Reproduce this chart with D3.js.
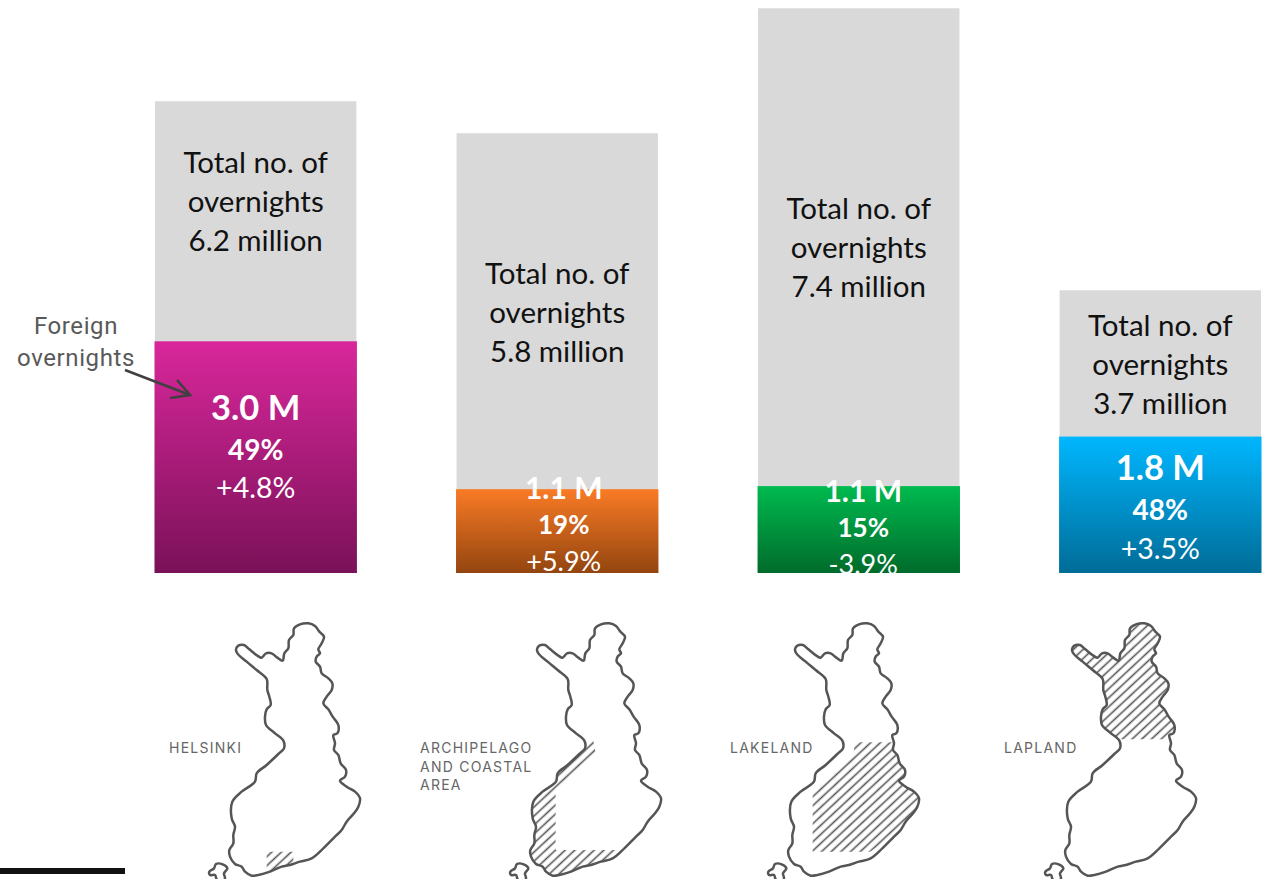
<!DOCTYPE html>
<html lang="en">

<head>
  <meta charset="UTF-8">
  <script src="https://d3js.org/d3.v7.min.js" charset="utf-8"></script>
  <title>Overnights by region</title>
  <style>
    body { margin: 0; background: #fff; overflow: hidden; }
    text { font-family: Lato, sans-serif; }
  </style>
</head>

<body>
  <script type="text/javascript">

    // values
    var regions = ["Helsinki", "Archipelago and coastal area", "Lakeland", "Lapland"];
    var totalValues = [6.19, 5.77, 7.41, 3.71];
    var foreignValues = [3.04, 1.1, 1.14, 1.79];
    var totalLabels = ["6.2 million", "5.8 million", "7.4 million", "3.7 million"];
    var foreignLabels = ["3.0 M", "1.1 M", "1.1 M", "1.8 M"];
    var shareLabels = ["49%", "19%", "15%", "48%"];
    var changeLabels = ["+4.8%", "+5.9%", "-3.9%", "+3.5%"];
    var mapLabels = [["HELSINKI"], ["ARCHIPELAGO", "AND COASTAL", "AREA"], ["LAKELAND"], ["LAPLAND"]];

    // outline of Finland (trace units, 3 per pixel)
    var finland = [[258, 118], [265, 107], [282, 105], [298, 118], [322, 137], [335, 143], [348, 130], [365, 130], [382, 143], [398, 152],
      [403, 130], [415, 115], [417, 90], [430, 75], [432, 55], [450, 43], [475, 40], [495, 48], [508, 65], [522, 80], [515, 100], [505, 118],
      [510, 130], [500, 140], [497, 155], [510, 170], [515, 190], [535, 205], [547, 220], [545, 240], [530, 260], [520, 280], [535, 298],
      [548, 320], [565, 345], [562, 370], [550, 375], [555, 400], [552, 420], [565, 435], [572, 460], [588, 480], [585, 500], [570, 512],
      [590, 530], [615, 545], [630, 565], [625, 590], [612, 610], [590, 635], [575, 660], [555, 680], [520, 715], [485, 745], [450, 755],
      [420, 765], [395, 770], [360, 785], [325, 795], [305, 797], [285, 785], [275, 770], [255, 762], [240, 740], [238, 720], [250, 700],
      [250, 675], [255, 650], [245, 625], [247, 575], [275, 545], [315, 515], [320, 490], [350, 465], [385, 432], [402, 415], [400, 392],
      [375, 370], [348, 345], [345, 320], [350, 298], [362, 285], [358, 260], [352, 240], [350, 207], [320, 180], [290, 155], [262, 130]];
    var island = [[178, 785], [192, 775], [198, 762], [218, 763], [232, 775], [222, 790], [225, 805], [215, 818], [200, 808], [195, 795], [180, 795]];
    var hatchZones = [
      [[350, 725], [430, 725], [430, 780], [350, 800]],
      [[407, 400], [427, 392], [435, 432], [314, 545], [314, 720], [497, 720], [497, 800], [217, 800], [217, 560], [317, 480]],
      [[438, 397], [563, 397], [653, 500], [653, 620], [483, 725], [311, 725], [311, 555], [433, 435]],
      [[200, 0], [580, 0], [580, 388], [200, 388]]
    ];

    // layout
    var outer_w = 1266;
    var outer_h = 879;
    var baseline = 573;
    var totalTextY = [173, 284, 219, 336];
    var foreignTextY = [419.5, 498.5, 501.5, 479.5];
    var shareTextY = [460, 534, 537, 520];
    var changeTextY = [498, 571, 574, 559];
    var labelShift = [0, 6.5, 4.5, 0];
    var foreignSize = [34.5, 30, 30, 34.5];
    var shareSize = [28, 26, 26, 28];
    var changeSize = [28.5, 27, 27, 28.5];
    var mapOffset = [0, 301, 559, 836];
    var mapLabelX = [169, 420, 730, 1004];
    var gradients = [["#d9279b", "#7a1158"], ["#f97b26", "#93450f"], ["#00ba4f", "#006b2b"], ["#00b7ff", "#006c97"]];

    var svg = d3.select("body")
      .append("svg")
      .attr("width", outer_w)
      .attr("height", outer_h)
      .style("display", "block");
    var defs = svg.append("defs");

    var xScale = d3.scaleBand()
      .domain(regions)
      .range([155, 1261])
      .paddingInner(0.332);
    var yScale = d3.scaleLinear()
      .domain([0, 7.4])
      .range([baseline, baseline - 564]);
    var traceX = d3.scaleLinear().domain([0, 690]).range([150, 380]);
    var traceY = d3.scaleLinear().domain([0, 807]).range([610, 879]);

    var line = d3.line()
      .x(function (d) { return traceX(d[0]); })
      .y(function (d) { return traceY(d[1]); })
      .curve(d3.curveLinearClosed);
    var smooth = d3.line()
      .x(function (d) { return traceX(d[0]); })
      .y(function (d) { return traceY(d[1]); })
      .curve(d3.curveCatmullRomClosed.alpha(0.5));

    regions.forEach(function (r, i) {
      var g = defs.append("linearGradient")
        .attr("id", "grad" + i)
        .attr("x1", 0).attr("y1", 0).attr("x2", 0).attr("y2", 1);
      g.append("stop").attr("offset", "0%").attr("stop-color", gradients[i][0]);
      g.append("stop").attr("offset", "100%").attr("stop-color", gradients[i][1]);
    });

    // labels are cut off at the foot of the bars
    defs.append("clipPath").attr("id", "barClip")
      .append("rect")
      .attr("x", 0).attr("y", 0)
      .attr("width", outer_w).attr("height", baseline);

    defs.append("clipPath").attr("id", "finlandClip")
      .append("path").attr("d", smooth(finland));

    defs.append("pattern")
      .attr("id", "hatch")
      .attr("patternUnits", "userSpaceOnUse")
      .attr("width", 6.6).attr("height", 6.6)
      .attr("patternTransform", "rotate(-43)")
      .append("line")
      .attr("x1", 0).attr("x2", 6.6)
      .attr("y1", 3.3).attr("y2", 3.3)
      .attr("stroke", "#555")
      .attr("stroke-width", 1.6);

    // bars
    svg.selectAll("rect.total")
      .data(regions)
      .enter()
      .append("rect")
      .attr("class", "total")
      .attr("x", function (d) { return xScale(d); })
      .attr("y", function (d, i) { return yScale(totalValues[i]); })
      .attr("width", xScale.bandwidth())
      .attr("height", function (d, i) { return baseline - yScale(totalValues[i]); })
      .attr("fill", "#d9d9d9");

    svg.selectAll("rect.foreign")
      .data(regions)
      .enter()
      .append("rect")
      .attr("class", "foreign")
      .attr("x", function (d) { return xScale(d) - 0.5; })
      .attr("y", function (d, i) { return yScale(foreignValues[i]); })
      .attr("width", xScale.bandwidth() + 1)
      .attr("height", function (d, i) { return baseline - yScale(foreignValues[i]); })
      .attr("fill", function (d, i) { return "url(#grad" + i + ")"; });

    // text in the bars
    var labels = svg.append("g").attr("clip-path", "url(#barClip)");
    regions.forEach(function (r, i) {
      var cx = xScale(r) + xScale.bandwidth() / 2;
      ["Total no. of", "overnights", totalLabels[i]].forEach(function (t, k) {
        labels.append("text")
          .attr("x", cx)
          .attr("y", totalTextY[i] + k * 39)
          .attr("text-anchor", "middle")
          .attr("font-size", 29.5)
          .attr("fill", "#111")
          .text(t);
      });
      labels.append("text")
        .attr("x", cx + labelShift[i]).attr("y", foreignTextY[i])
        .attr("text-anchor", "middle")
        .attr("font-size", foreignSize[i])
        .attr("font-weight", 700)
        .attr("fill", "#fff")
        .text(foreignLabels[i]);
      labels.append("text")
        .attr("x", cx + labelShift[i]).attr("y", shareTextY[i])
        .attr("text-anchor", "middle")
        .attr("font-size", shareSize[i])
        .attr("font-weight", 700)
        .attr("fill", "#fff")
        .text(shareLabels[i]);
      labels.append("text")
        .attr("x", cx + labelShift[i]).attr("y", changeTextY[i])
        .attr("text-anchor", "middle")
        .attr("font-size", changeSize[i])
        .attr("fill", "#fff")
        .text(changeLabels[i]);
    });

    // annotation
    ["Foreign", "overnights"].forEach(function (t, k) {
      svg.append("text")
        .attr("x", 76)
        .attr("y", 334 + k * 32)
        .attr("text-anchor", "middle")
        .style("font-family", "Roboto, sans-serif")
        .style("letter-spacing", "0.6px")
        .attr("font-size", 24)
        .attr("fill", "#595959")
        .text(t);
    });
    var arrow = svg.append("g")
      .attr("fill", "none")
      .attr("stroke", "#404040")
      .attr("stroke-width", 2.6);
    arrow.append("path").attr("d", "M125,370L190,395");
    arrow.append("path").attr("d", "M177,380L190,395L170,398");

    // maps
    regions.forEach(function (r, i) {
      var m = svg.append("g").attr("transform", "translate(" + mapOffset[i] + ",0)");
      m.append("g")
        .attr("clip-path", "url(#finlandClip)")
        .append("path")
        .attr("d", line(hatchZones[i]))
        .attr("fill", "url(#hatch)");
      m.append("path")
        .attr("d", smooth(finland))
        .attr("fill", "none")
        .attr("stroke", "#555")
        .attr("stroke-width", 2.5)
        .attr("stroke-linejoin", "round");
      m.append("path")
        .attr("d", smooth(island))
        .attr("fill", "none")
        .attr("stroke", "#555")
        .attr("stroke-width", 2.5);

      mapLabels[i].forEach(function (t, k) {
        svg.append("text")
          .attr("x", mapLabelX[i])
          .attr("y", 753 + k * 18.5)
          .style("font-family", "Inter, sans-serif")
          .style("letter-spacing", "1.25px")
          .attr("font-size", 14)
          .attr("fill", "#666")
          .text(t);
      });
    });

    // black rule at the foot of the slide
    svg.append("rect")
      .attr("x", 0).attr("y", 868)
      .attr("width", 125).attr("height", 6)
      .attr("fill", "#111");

  </script>
</body>

</html>
